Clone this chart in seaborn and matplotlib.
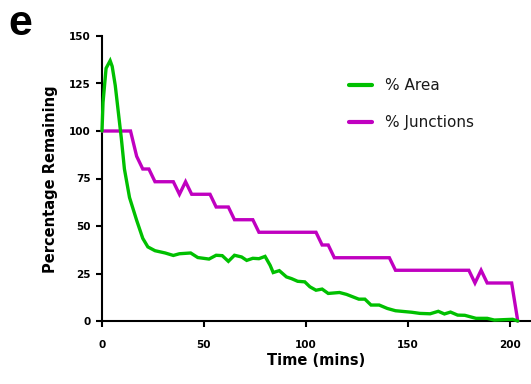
import numpy as np
import pandas as pd
import matplotlib
matplotlib.use("Agg")
import matplotlib.pyplot as plt
import seaborn as sns

# % Area over time (minutes)
area_time = [0, 0.5, 2, 4, 5, 6.5, 8, 9.5, 11, 13.5, 17, 20, 22.5, 26, 31, 35, 38,
             43.5, 47, 52.5, 56, 59, 62, 65, 68.5, 71, 74, 77, 80, 82.5, 84, 87,
             90.5, 93, 96, 99.5, 102, 105, 108, 111, 116.5, 120, 126, 129, 132,
             136, 140, 144, 152, 156, 161, 165, 168, 171, 174.5, 178, 183.5, 189,
             192.5, 201.5, 204]
area_pct = [100, 115, 133, 137, 134, 124, 110, 96, 80, 65, 53, 43.5, 39, 37, 35.8,
            34.5, 35.4, 35.8, 33.4, 32.6, 34.6, 34.4, 31.4, 34.6, 33.7, 31.9, 33,
            32.8, 34, 29.3, 25.5, 26.5, 23.2, 22.3, 20.9, 20.6, 18, 16.2, 16.8,
            14.5, 15, 14, 11.5, 11.5, 8.4, 8.4, 6.6, 5.4, 4.6, 4, 3.8, 5.1, 3.7,
            4.7, 3.1, 3, 1.4, 1.4, 0.5, 0.9, 0]

# % Junctions over time (minutes)
junc_time = [0, 14, 17, 20, 23, 26, 35, 38, 41, 44, 53, 56, 62, 65, 74, 77, 105,
             108, 111, 114, 141, 144, 180, 183, 186, 189, 201, 204]
junc_pct = [100, 100, 86.7, 80, 80, 73.3, 73.3, 66.7, 73.3, 66.7, 66.7, 60, 60,
            53.3, 53.3, 46.7, 46.7, 40, 40, 33.3, 33.3, 26.7, 26.7, 20, 26.7, 20,
            20, 0]

series_names = ["% Area", "% Junctions"]
series_colors = ["#00c000", "#c000c0"]
x_ticks = [0, 50, 100, 150, 200]
y_ticks = [0, 25, 50, 75, 100, 125, 150]

df = pd.concat([
    pd.DataFrame({"Time": area_time, "Pct": area_pct, "Series": series_names[0]}),
    pd.DataFrame({"Time": junc_time, "Pct": junc_pct, "Series": series_names[1]}),
], ignore_index=True)

sns.set_style("ticks")
plt.rcParams["font.family"] = ["DejaVu Sans"]
plt.rcParams["text.color"] = "black"
plt.rcParams["axes.labelcolor"] = "black"
plt.rcParams["xtick.color"] = "black"
plt.rcParams["ytick.color"] = "black"

fig = plt.figure(figsize=(5.31, 3.84), dpi=100)
ax = fig.add_axes([102 / 531, 63 / 384, 428 / 531, 285 / 384])

sns.lineplot(data=df, x="Time", y="Pct", hue="Series", hue_order=series_names,
             palette=series_colors, estimator=None, sort=False, linewidth=2.4,
             ax=ax)
# area trace sits above the junction trace
ax.lines[0].set_zorder(4)
ax.lines[1].set_zorder(3)
for ln in ax.lines[:2]:
    ln.set_clip_on(False)
    ln.set_solid_joinstyle("miter")

ax.set_xlim(0, 210)
ax.set_ylim(0, 150)
ax.set_xticks(x_ticks)
ax.set_yticks(y_ticks)
ax.set_xticklabels([str(v) for v in x_ticks], fontsize=7.5, fontweight="bold",
                   color="black")
ax.set_yticklabels([str(v) for v in y_ticks], fontsize=7.5, fontweight="bold",
                   color="black")

for side in ["top", "right"]:
    ax.spines[side].set_visible(False)
for side in ["left", "bottom"]:
    ax.spines[side].set_linewidth(1.5)
    ax.spines[side].set_color("black")
ax.tick_params(axis="both", direction="out", length=4.5, width=1.5, color="black")
ax.tick_params(axis="x", pad=9)
ax.tick_params(axis="y", pad=3.5)

ax.set_xlabel("Time (mins)", fontsize=10.5, fontweight="bold", color="black")
ax.set_ylabel("Percentage Remaining", fontsize=10.5, fontweight="bold",
              color="black")
ax.xaxis.set_label_coords(0.501, -0.112)
ax.yaxis.set_label_coords(-0.103, 0.498)

handles, labels = ax.get_legend_handles_labels()
for h in handles:
    h.set_linewidth(3.0)
leg = ax.legend(handles, labels, frameon=False, loc="upper left",
                bbox_to_anchor=(349 / 531, 1 - 78 / 384),
                bbox_transform=fig.transFigure, borderpad=0, borderaxespad=0,
                handlelength=1.5, handletextpad=0.85, labelspacing=1.46,
                prop={"size": 11})
for t in leg.get_texts():
    t.set_color("#1a1a1a")

fig.text(8 / 531, 1 - 35 / 384, "e", fontsize=31, fontweight="bold",
         family=["Liberation Sans", "DejaVu Sans"], va="baseline", ha="left",
         color="black")

fig.savefig("out.png", dpi=100)
